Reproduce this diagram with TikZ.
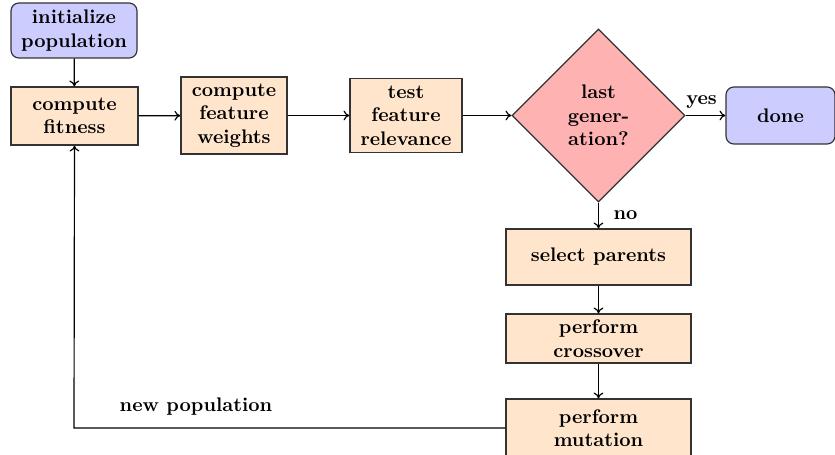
\documentclass[tikz,border=0pt]{standalone}
\usetikzlibrary{shapes.geometric,arrows.meta}
\begin{document}
\begin{tikzpicture}[x=0.5086pt,y=-0.5086pt,
  font=\bfseries,
  stepbox/.style={draw=black!80,fill=orange!20,rectangle,align=center,inner sep=0pt,semithick},
  termbox/.style={draw=black!80,fill=blue!20,rectangle,rounded corners=4pt,align=center,inner sep=0pt,semithick},
  decide/.style={draw=black!80,fill=red!30,diamond,align=center,inner sep=0pt,semithick},
  conn/.style={-{To[length=3pt,width=5pt]},semithick}]
\useasboundingbox (0,0) rectangle (835,455);
\clip (0,0) rectangle (835,455);
\node[termbox,minimum width=126*0.5086pt,minimum height=55*0.5086pt] (init) at (74,30.5) {initialize\\population};
\node[stepbox,minimum width=127*0.5086pt,minimum height=58*0.5086pt] (fit) at (74.5,116) {compute\\fitness};
\node[stepbox,minimum width=106*0.5086pt,minimum height=77*0.5086pt] (wgt) at (234,115.5) {compute\\feature\\weights};
\node[stepbox,minimum width=112*0.5086pt,minimum height=74*0.5086pt] (rel) at (406,115.5) {test\\feature\\relevance};
\node[decide,minimum width=173*0.5086pt,minimum height=173*0.5086pt] (last) at (598.5,115.5) {last\\gener-\\ation?};
\node[termbox,minimum width=109*0.5086pt,minimum height=57*0.5086pt] (done) at (780.5,115.5) {done};
\node[stepbox,minimum width=185*0.5086pt,minimum height=56*0.5086pt] (sel) at (598.5,257) {select parents};
\node[stepbox,minimum width=185*0.5086pt,minimum height=49*0.5086pt] (cross) at (598.5,338.5) {perform\\crossover};
\node[stepbox,minimum width=185*0.5086pt,minimum height=58*0.5086pt] (mut) at (598.5,428) {perform\\mutation};
\draw[conn] (init) -- (fit);
\draw[conn] (fit) -- (wgt);
\draw[conn] (wgt) -- (rel);
\draw[conn] (rel) -- (last);
\draw[conn] (last) -- node[above,xshift=-2pt] {yes} (done);
\draw[conn] (last) -- node[right,xshift=4pt] {no} (sel);
\draw[conn] (sel) -- (cross);
\draw[conn] (cross) -- (mut);
\coordinate (corner) at (74,428);
\draw[conn] (mut.west) -- (corner) -- (fit.south);
\node (np) at (196,407) {new population};
\end{tikzpicture}
\end{document}
